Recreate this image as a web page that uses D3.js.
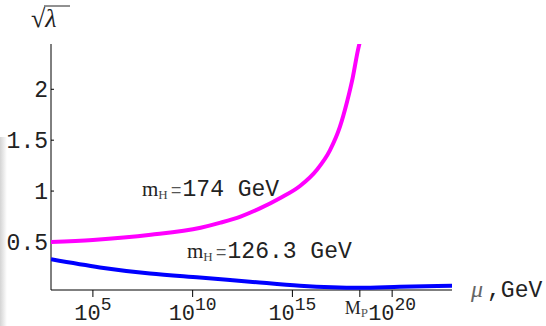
<!DOCTYPE html>
<html>
<head>
<meta charset="utf-8">
<script src="https://cdn.jsdelivr.net/npm/d3@7"></script>
<style>
  body { margin: 0; background: #fff; }
  svg { display: block; }
</style>
</head>
<body>
<div id="chart"></div>
<script>
// log10(mu / GeV) and sqrt(lambda)
let muHeavy = [2.9, 5.0, 7.9, 10.4, 11.4, 12.4, 13.37, 14.37, 15.38, 16.23, 16.88, 17.38, 17.73, 18.03, 18.28, 18.45];
let lamHeavy = [0.50, 0.52, 0.57, 0.64, 0.69, 0.75, 0.83, 0.93, 1.05, 1.21, 1.40, 1.63, 1.87, 2.12, 2.38, 2.52];
let muLight = [2.9, 5.35, 7.86, 10.36, 12.87, 15.38, 18.38, 20.39, 23.0];
let lamLight = [0.33, 0.25, 0.19, 0.15, 0.11, 0.07, 0.05, 0.06, 0.07];
let xTicks = [5, 10, 15, 20];
let yTicks = [0.5, 1, 1.5, 2];
let planckExp = 18.38;

function init() {
    let width = 546, height = 326;
    let svg = d3.select("#chart").append("svg")
        .attr("width", width)
        .attr("height", height);

    // scales
    let x = d3.scaleLog()
        .domain([Math.pow(10, 2.9), Math.pow(10, 23.0)])
        .range([51, 452]);
    let y = d3.scaleLinear()
        .domain([0.028, 2.445])
        .range([290, 44]);

    // grey shadow on the left edge
    let defs = svg.append("defs");
    let grad = defs.append("linearGradient").attr("id", "shade")
        .attr("x1", 0).attr("x2", 1).attr("y1", 0).attr("y2", 0);
    grad.append("stop").attr("offset", "0%").attr("stop-color", "#d4d4d4");
    grad.append("stop").attr("offset", "100%").attr("stop-color", "#ffffff");
    svg.append("rect")
        .attr("x", 0).attr("y", 137)
        .attr("width", 7).attr("height", height - 137)
        .attr("fill", "url(#shade)");

    defs.append("clipPath").attr("id", "plotclip")
        .append("rect")
        .attr("x", 51).attr("y", y.range()[1])
        .attr("width", 401).attr("height", y.range()[0] - y.range()[1]);

    // axes
    svg.append("line")
        .attr("x1", 51).attr("x2", 452)
        .attr("y1", 290).attr("y2", 290)
        .attr("stroke", "#000").attr("stroke-width", 1);
    svg.append("line")
        .attr("x1", 51).attr("x2", 51)
        .attr("y1", 44).attr("y2", 290)
        .attr("stroke", "#000").attr("stroke-width", 1);

    let mono = "'Liberation Mono', 'Courier New', monospace";
    let serif = "'Liberation Serif', 'Times New Roman', serif";

    // y ticks
    svg.selectAll(".ytick")
        .data(yTicks)
        .join("line")
        .attr("x1", 51).attr("x2", 54)
        .attr("y1", d => y(d)).attr("y2", d => y(d))
        .attr("stroke", "#000");
    svg.selectAll(".ylab")
        .data(yTicks)
        .join("text")
        .attr("x", 48)
        .attr("y", d => y(d) + 8)
        .attr("text-anchor", "end")
        .style("font-family", mono)
        .style("font-size", "23px")
        .attr("fill", "#222")
        .text(d => d3.format("")(d));

    // x ticks
    let xt = xTicks.concat([planckExp]);
    svg.selectAll(".xtick")
        .data(xt)
        .join("line")
        .attr("x1", d => x(Math.pow(10, d))).attr("x2", d => x(Math.pow(10, d)))
        .attr("y1", 290).attr("y2", 297)
        .attr("stroke", "#000");
    let xl = svg.selectAll(".xlab")
        .data(xTicks)
        .join("text")
        .attr("x", d => x(Math.pow(10, d)))
        .attr("y", 320)
        .attr("text-anchor", "middle")
        .style("font-family", mono)
        .attr("fill", "#222");
    xl.append("tspan").style("font-size", "22px").text("10");
    xl.append("tspan").style("font-size", "18px").attr("dy", -10).text(d => d);

    // Planck mass label
    let mp = svg.append("text")
        .attr("x", x(Math.pow(10, planckExp)) - 15)
        .attr("y", 314)
        .style("font-family", serif)
        .attr("fill", "#222");
    mp.append("tspan").style("font-size", "18px").text("M");
    mp.append("tspan").style("font-size", "13px").attr("dy", 3).attr("fill", "#555").text("P");

    // curves
    let line = d3.line()
        .x(d => x(Math.pow(10, d[0])))
        .y(d => y(d[1]))
        .curve(d3.curveMonotoneX);
    let g = svg.append("g").attr("clip-path", "url(#plotclip)");
    g.append("path")
        .datum(d3.zip(muHeavy, lamHeavy))
        .attr("d", line)
        .attr("fill", "none")
        .attr("stroke", "#ff00ff")
        .attr("stroke-width", 4);
    g.append("path")
        .datum(d3.zip(muLight, lamLight))
        .attr("d", line)
        .attr("fill", "none")
        .attr("stroke", "#0000ff")
        .attr("stroke-width", 4);

    // curve labels
    function massLabel(xp, yp, value) {
        let t = svg.append("text").attr("x", xp).attr("y", yp).attr("fill", "#222");
        t.append("tspan").style("font-family", serif).style("font-size", "21px").text("m");
        t.append("tspan").style("font-family", serif).style("font-size", "13px")
            .attr("dy", 3).attr("fill", "#444").text("H");
        t.append("tspan").style("font-family", mono).style("font-size", "18px")
            .attr("dy", -3).attr("dx", 3).attr("fill", "#555").text("=");
        t.append("tspan").style("font-family", mono).style("font-size", "23px")
            .attr("dx", 1).text(value + " GeV");
    }
    massLabel(142, 196, "174");
    massLabel(187, 258, "126.3");

    // axis titles
    let sq = svg.append("text")
        .attr("x", 31).attr("y", 27)
        .style("font-family", serif)
        .style("font-size", "26px")
        .attr("fill", "#222");
    sq.append("tspan").text("\u221A");
    sq.append("tspan").style("font-style", "italic").text("\u03BB");
    svg.append("line")
        .attr("x1", 44).attr("x2", 70)
        .attr("y1", 6).attr("y2", 6)
        .attr("stroke", "#222").attr("stroke-width", 1);

    let mu = svg.append("text")
        .attr("x", 471).attr("y", 297)
        .attr("fill", "#222");
    mu.append("tspan").style("font-family", serif).style("font-style", "italic")
        .style("font-size", "24px").attr("fill", "#666").text("\u03BC");
    mu.append("tspan").style("font-family", mono).style("font-size", "23px")
        .attr("dx", 4).text(",GeV");
}
window.onload = init;
</script>
</body>
</html>
